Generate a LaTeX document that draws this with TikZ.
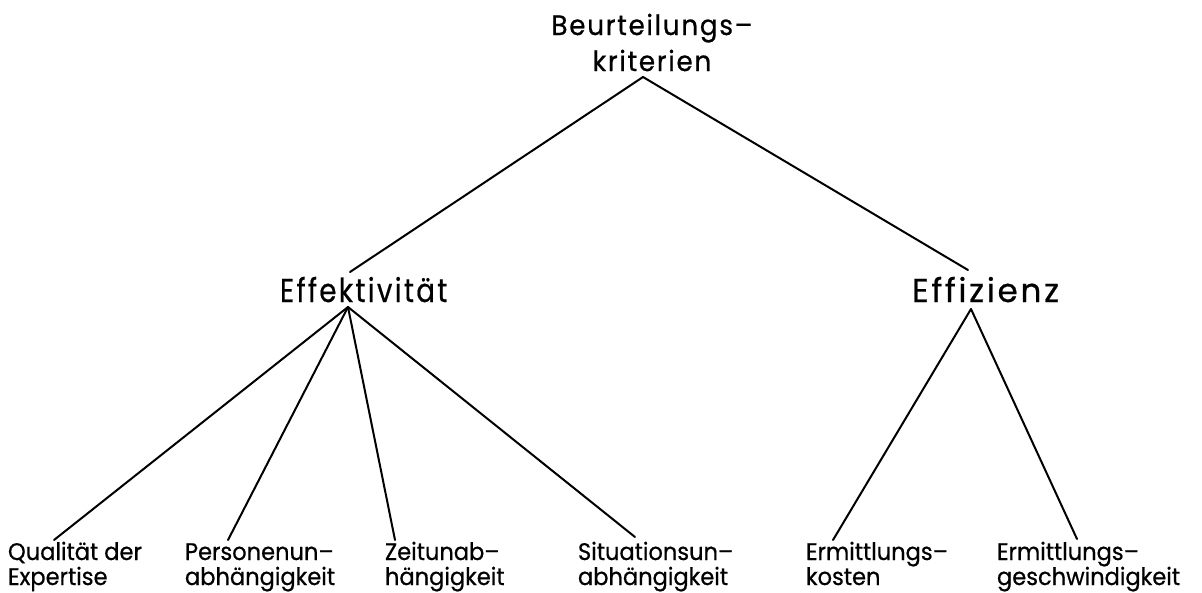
\documentclass[tikz,border=0pt]{standalone}
\usepackage{fontspec}
\setmainfont[FakeStretch=0.94,FakeBold=0.6]{Poppins}
\begin{document}
\begin{tikzpicture}[x=1pt,y=-1pt,
  every node/.style={inner sep=0pt,outer sep=0pt},
  leaf/.style={anchor=base west,align=left,font=\fontsize{24}{25}\selectfont},
  mid/.style={anchor=base west,font=\fontsize{33}{36}\selectfont\addfontfeature{LetterSpace=8}},
  topn/.style={anchor=base,align=center,font=\fontsize{28}{36}\selectfont\addfontfeature{LetterSpace=6}},
  edge/.style={line width=2pt,line cap=round}]
\useasboundingbox (0,0) rectangle (1202,592);
\node[topn] (root) at (652,71) {Beurteilungs--\\kriterien};
\node[mid] (eff) at (280,302) {\scalebox{0.89}[1]{Effektivität}};
\node[mid] (ez) at (912,302) {\scalebox{1.05}[1]{Effizienz}};
\node[leaf] (q) at (8,585) {Qualität der\\Expertise};
\node[leaf] (p) at (185,585) {Personenun--\\abhängigkeit};
\node[leaf] (z) at (385,585) {Zeitunab--\\hängigkeit};
\node[leaf] (s) at (578,585) {Situationsun--\\abhängigkeit};
\node[leaf] (k) at (806,585) {Ermittlungs--\\kosten};
\node[leaf] (g) at (997,585) {Ermittlungs--\\geschwindigkeit};
\coordinate (rA) at (643,77);
\coordinate (effT) at (350,272);
\coordinate (ezT) at (968,270);
\coordinate (effA) at (348,307);
\coordinate (ezA) at (971,309);
\coordinate (qT) at (54,540);
\coordinate (pT) at (228,540);
\coordinate (zT) at (395,540);
\coordinate (sT) at (635,537);
\coordinate (kT) at (833,540);
\coordinate (gT) at (1077,539);
\draw[edge] (rA) -- (effT);
\draw[edge] (rA) -- (ezT);
\draw[edge] (effA) -- (qT);
\draw[edge] (effA) -- (pT);
\draw[edge] (effA) -- (zT);
\draw[edge] (effA) -- (sT);
\draw[edge] (ezA) -- (kT);
\draw[edge] (ezA) -- (gT);
\end{tikzpicture}
\end{document}
